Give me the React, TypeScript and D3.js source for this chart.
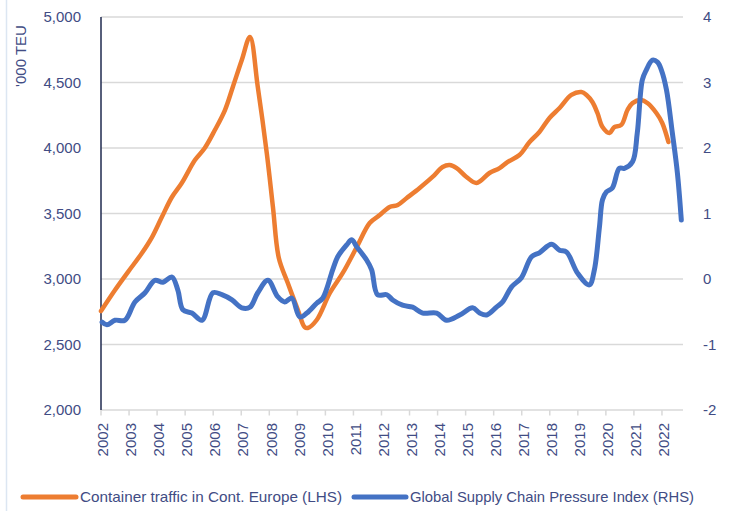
import React from "react";
import * as d3 from "d3";

// Container traffic in Cont. Europe ('000 TEU), LHS
const containerDates = [
  2002.0, 2002.5, 2002.96, 2003.46, 2003.82, 2004.17, 2004.53, 2004.88, 2005.35, 2005.7,
  2006.06, 2006.42, 2006.7, 2007.02, 2007.31, 2007.59, 2007.91, 2008.13, 2008.34, 2008.66,
  2009.02, 2009.26, 2009.37, 2009.69, 2010.16, 2010.62, 2011.12, 2011.58, 2011.94, 2012.29,
  2012.58, 2012.9, 2013.36, 2013.82, 2014.18, 2014.43, 2014.68, 2015.03, 2015.39, 2015.85,
  2016.21, 2016.49, 2016.92, 2017.28, 2017.63, 2017.99, 2018.35, 2018.77, 2019.13, 2019.31,
  2019.52, 2019.7, 2019.88, 2020.13, 2020.3, 2020.55, 2020.77, 2020.95, 2021.27, 2021.48,
  2021.8, 2022.01, 2022.23,
];
const containerValues = [
  2755, 2916, 3053, 3198, 3320, 3473, 3626, 3733, 3908, 4000,
  4137, 4290, 4466, 4672, 4847, 4466, 3962, 3550, 3160, 2969,
  2763, 2633, 2626, 2687, 2893, 3046, 3244, 3427, 3488, 3550,
  3565, 3618, 3695, 3779, 3855, 3870, 3847, 3779, 3733, 3809,
  3847, 3893, 3947, 4046, 4122, 4229, 4305, 4405, 4427, 4405,
  4351, 4267, 4160, 4114, 4160, 4176, 4290, 4343, 4366, 4343,
  4267, 4191, 4046,
];

// Global Supply Chain Pressure Index, RHS
const gscpiDates = [
  2002.04, 2002.21, 2002.5, 2002.85, 2003.21, 2003.57, 2003.92, 2004.21, 2004.53, 2004.74,
  2004.92, 2005.24, 2005.6, 2005.99, 2006.31, 2006.67, 2007.02, 2007.31, 2007.59, 2007.95,
  2008.3, 2008.55, 2008.8, 2009.09, 2009.34, 2009.69, 2009.91, 2010.26, 2010.44, 2010.76,
  2010.94, 2011.12, 2011.47, 2011.65, 2011.86, 2012.19, 2012.4, 2012.75, 2013.11, 2013.47,
  2013.97, 2014.32, 2014.79, 2015.25, 2015.5, 2015.75, 2016.1, 2016.32, 2016.64, 2016.99,
  2017.35, 2017.63, 2018.06, 2018.35, 2018.6, 2018.99, 2019.41, 2019.59, 2019.77, 2019.88,
  2020.02, 2020.23, 2020.48, 2020.66, 2020.95, 2021.12, 2021.3, 2021.44, 2021.66, 2021.84,
  2021.98, 2022.16, 2022.37, 2022.55, 2022.69,
];
const gscpiValues = [
  -0.66, -0.7, -0.63, -0.63, -0.35, -0.21, -0.02, -0.05, 0.03, -0.17,
  -0.47, -0.52, -0.63, -0.21, -0.24, -0.32, -0.44, -0.43, -0.21, -0.02,
  -0.27, -0.35, -0.29, -0.58, -0.52, -0.37, -0.29, 0.14, 0.34, 0.52,
  0.6, 0.49, 0.29, 0.14, -0.24, -0.24, -0.32, -0.4, -0.43, -0.52,
  -0.52, -0.63, -0.55, -0.44, -0.52, -0.55, -0.43, -0.35, -0.12, 0.02,
  0.34, 0.4, 0.53, 0.44, 0.41, 0.09, -0.09, 0.14, 0.79, 1.21,
  1.33, 1.39, 1.69, 1.69, 1.79, 2.23, 3.04, 3.19, 3.34, 3.31,
  3.19, 2.89, 2.23, 1.62, 0.9,
];

const yearTicks = d3.range(2002, 2023);
const leftTicks = [2000, 2500, 3000, 3500, 4000, 4500, 5000];
const rightTicks = [-2, -1, 0, 1, 2, 3, 4];
const legendLabels = [
  "Container traffic in Cont. Europe (LHS)",
  "Global Supply Chain Pressure Index (RHS)",
];

const W = 730;
const H = 511;
const TEXT = "#414C84";
const FONT = "'Liberation Sans', Arial, sans-serif";

export default function App() {
  const x = d3.scaleLinear().domain([2002, 2022.75]).range([101, 683]);
  const yL = d3.scaleLinear().domain([2000, 5000]).range([410, 17]);
  const yR = d3.scaleLinear().domain([-2, 4]).range([410, 17]);

  const orangeLine = d3
    .line<number>()
    .x((_, i) => x(containerDates[i]))
    .y((d) => yL(d))
    .curve(d3.curveCatmullRom.alpha(0.5));
  const blueLine = d3
    .line<number>()
    .x((_, i) => x(gscpiDates[i]))
    .y((d) => yR(d))
    .curve(d3.curveCatmullRom.alpha(0.5));

  return (
    <svg
      width={W}
      height={H}
      style={{ position: "absolute", left: 0, top: 0, background: "#fff" }}
      fontFamily={FONT}
    >
      <rect x={0} y={0} width={W} height={H} fill="#fff" />
      <line x1={6.5} x2={6.5} y1={0} y2={H} stroke="#DCE6F2" strokeWidth={1.5} />

      {/* gridlines */}
      {leftTicks.map((t) => (
        <line key={t} x1={101} x2={683} y1={yL(t)} y2={yL(t)} stroke="#D9D9D9" strokeWidth={1.5} />
      ))}

      {/* x tick marks */}
      {yearTicks.map((yr) => (
        <line key={yr} x1={x(yr)} x2={x(yr)} y1={410} y2={415.5} stroke="#D9D9D9" strokeWidth={1.5} />
      ))}

      {/* left axis line */}
      <line x1={101} x2={101} y1={17} y2={410} stroke="#1F2A4F" strokeWidth={1.5} />

      {/* left tick labels */}
      {leftTicks.map((t) => (
        <text key={t} x={81} y={yL(t)} dy="0.35em" textAnchor="end" fontSize={15} fill={TEXT}>
          {d3.format(",")(t)}
        </text>
      ))}
      {/* right tick labels */}
      {rightTicks.map((t) => (
        <text key={t} x={703} y={yR(t)} dy="0.35em" textAnchor="start" fontSize={15} fill={TEXT}>
          {t < 0 ? `-${Math.abs(t)}` : t}
        </text>
      ))}
      {/* x labels */}
      {yearTicks.map((yr) => (
        <text
          key={yr}
          transform={`translate(${x(yr) + 2},423) rotate(-90)`}
          dy="0.35em"
          textAnchor="end"
          fontSize={15}
          fill={TEXT}
        >
          {yr}
        </text>
      ))}

      {/* axis title */}
      <text transform="translate(21,56) rotate(-90)" dy="0.35em" textAnchor="middle" fontSize={15} fill={TEXT}>
        '000 TEU
      </text>

      {/* series */}
      <path d={orangeLine(containerValues) || ""} fill="none" stroke="#ED7D31" strokeWidth={4.5} strokeLinejoin="round" strokeLinecap="round" />
      <path d={blueLine(gscpiValues) || ""} fill="none" stroke="#4472C4" strokeWidth={5} strokeLinejoin="round" strokeLinecap="round" />

      {/* legend */}
      <line x1={23} x2={76} y1={497} y2={497} stroke="#ED7D31" strokeWidth={5} strokeLinecap="round" />
      <text x={80} y={497} dy="0.35em" fontSize={15} fill={TEXT} textLength={262} lengthAdjust="spacingAndGlyphs">
        {legendLabels[0]}
      </text>
      <line x1={354} x2={406} y1={497} y2={497} stroke="#4472C4" strokeWidth={5} strokeLinecap="round" />
      <text x={410} y={497} dy="0.35em" fontSize={15} fill={TEXT} textLength={284} lengthAdjust="spacingAndGlyphs">
        {legendLabels[1]}
      </text>
    </svg>
  );
}
